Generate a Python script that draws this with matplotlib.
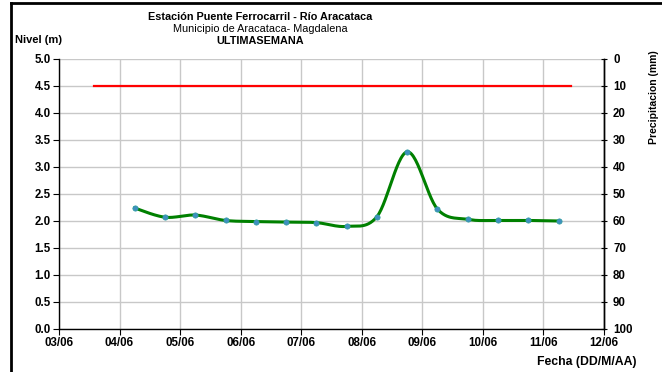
import matplotlib
matplotlib.use("Agg")
import matplotlib.pyplot as plt
import matplotlib.dates as mdates
from matplotlib.lines import Line2D
import numpy as np
import pandas as pd

plt.rcParams['font.family'] = ['Liberation Sans', 'DejaVu Sans']

# ---- data ----
times = ["2011-06-04 06:00", "2011-06-04 18:00", "2011-06-05 06:00", "2011-06-05 18:00",
         "2011-06-06 06:00", "2011-06-06 18:00", "2011-06-07 06:00", "2011-06-07 18:00",
         "2011-06-08 06:00", "2011-06-08 18:00", "2011-06-09 06:00", "2011-06-09 18:00",
         "2011-06-10 06:00", "2011-06-10 18:00", "2011-06-11 06:00"]
nivel = [2.24, 2.07, 2.11, 2.01, 1.99, 1.98, 1.97, 1.90, 2.08, 3.28, 2.22, 2.03, 2.01, 2.01, 2.00]
alerta_times = ["2011-06-03 14:00", "2011-06-11 11:00"]
alerta_nivel = [4.5, 4.5]
xlim_dates = ["2011-06-03", "2011-06-12"]
title1 = "Estación Puente Ferrocarril - Río Aracataca"
title2 = "Municipio de Aracataca- Magdalena"
title3 = "ULTIMASEMANA"

x = mdates.date2num(pd.to_datetime(times))
y = np.array(nivel)

def catmull_rom(px, py, n=30):
    px = np.asarray(px, float); py = np.asarray(py, float)
    P = np.column_stack([px, py])
    P = np.vstack([P[0], P, P[-1]])
    out = []
    for i in range(1, len(P) - 2):
        p0, p1, p2, p3 = P[i-1], P[i], P[i+1], P[i+2]
        c1 = p1 + (p2 - p0) / 6.0
        c2 = p2 - (p3 - p1) / 6.0
        t = np.linspace(0, 1, n)[:, None]
        seg = (1-t)**3*p1 + 3*(1-t)**2*t*c1 + 3*(1-t)*t**2*c2 + t**3*p2
        out.append(seg if i == 1 else seg[1:])
    S = np.vstack(out)
    return S[:, 0], S[:, 1]

fig = plt.figure(figsize=(6.62, 3.72), dpi=100)
ax = fig.add_axes([0.0891, 0.1156, 0.8233, 0.7258])

sx, sy = catmull_rom(x, y)
ax.plot(sx, sy, color='#008000', lw=2.2, zorder=3)
ax.plot(x, y, 'o', color='#3f8fc0', ms=3.8, zorder=4, mec='#2f9f9f', mew=0.5)
ax.plot(mdates.date2num(pd.to_datetime(alerta_times)), alerta_nivel, color='#ff0000', lw=1.6, zorder=3)

x0, x1 = mdates.date2num(pd.to_datetime(xlim_dates))
ax.set_xlim(x0, x1)
ax.set_ylim(0, 5)
ax.xaxis.set_major_locator(mdates.DayLocator())
ax.xaxis.set_major_formatter(mdates.DateFormatter('%d/%m'))
ax.set_yticks(np.arange(0, 5.01, 0.5))
ax.yaxis.set_major_formatter(matplotlib.ticker.FormatStrFormatter('%.1f'))
ax.grid(True, color='#c8c8c8', lw=1.0)
ax.set_axisbelow(True)
ax.spines['top'].set_visible(False)
for s in ['left', 'bottom', 'right']:
    ax.spines[s].set_color('black')
    ax.spines[s].set_linewidth(1.0)
ax.tick_params(axis='both', labelsize=8.3, length=4, width=0.8, direction='out', pad=2)
for lab in ax.get_xticklabels() + ax.get_yticklabels():
    lab.set_fontweight('bold')

ax2 = ax.twinx()
ax2.set_ylim(100, 0)
ax2.set_yticks(np.arange(0, 101, 10))
ax2.tick_params(axis='y', labelsize=8.3, length=5, width=0.8, direction='inout', pad=4)
for lab in ax2.get_yticklabels():
    lab.set_fontweight('bold')
for s in ['top', 'left', 'bottom']:
    ax2.spines[s].set_visible(False)
ax2.spines['right'].set_linewidth(1.0)
ax2.set_ylabel('Precipitacion (mm)', fontsize=7.5, fontweight='semibold')
ax2.yaxis.set_label_coords(1.083, 0.86)

fig.text(0.393, 0.953, title1, ha='center', va='center', fontsize=7.8, fontweight='bold')
fig.text(0.393, 0.921, title2, ha='center', va='center', fontsize=7.8)
fig.text(0.393, 0.889, title3, ha='center', va='center', fontsize=7.8, fontweight='bold')
fig.text(0.023, 0.892, 'Nivel (m)', ha='left', va='center', fontsize=8, fontweight='bold')
fig.text(0.962, 0.027, 'Fecha (DD/M/AA)', ha='right', va='center', fontsize=8.8, fontweight='bold')

# outer frame (left and top)
fig.add_artist(Line2D([0.0166, 0.0166], [0, 0.991], transform=fig.transFigure, color='black', lw=2))
fig.add_artist(Line2D([0.0166, 1.0], [0.991, 0.991], transform=fig.transFigure, color='black', lw=2))

fig.savefig('out.png', dpi=100)
